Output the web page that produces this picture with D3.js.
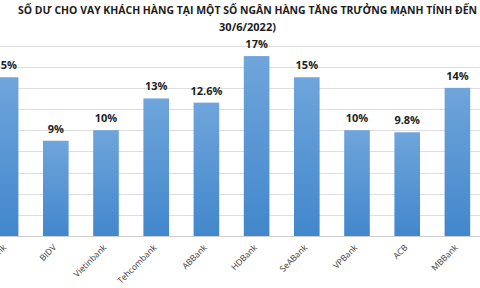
<!DOCTYPE html>
<html>
<head>
<meta charset="utf-8">
<script src="https://d3js.org/d3.v7.min.js"></script>
<style>
  body { margin: 0; background: #fff; }
  .chart text { font-family: "Open Sans", sans-serif; }
</style>
</head>
<body>
<div id="chart" class="chart"></div>
<script>
"use strict";
// số liệu
var nganHang = ["Sacombank", "BIDV", "Vietinbank", "Tehcombank", "ABBank", "HDBank", "SeABank", "VPBank", "ACB", "MBBank"];
var tangTruong = [15, 9, 10, 13, 12.6, 17, 15, 10, 9.8, 14];
var nhanGiaTri = ["15%", "9%", "10%", "13%", "12.6%", "17%", "15%", "10%", "9.8%", "14%"];
var mocLuoi = [0, 2, 4, 6, 8, 10, 12, 14, 16, 18];
var tieuDe = ["SỐ DƯ CHO VAY KHÁCH HÀNG TẠI MỘT SỐ NGÂN HÀNG TĂNG TRƯỞNG MẠNH TÍNH ĐẾN", "30/6/2022)"];

var W = 480, H = 288;
var day = 236, dinh = 45.5;

var svg = d3.select("#chart").append("svg")
  .attr("width", W).attr("height", H);

var grad = svg.append("defs").append("linearGradient")
  .attr("id", "cot").attr("x1", 0).attr("y1", 0).attr("x2", 0).attr("y2", 1);
grad.append("stop").attr("offset", "0%").attr("stop-color", "#6fa5db");
grad.append("stop").attr("offset", "100%").attr("stop-color", "#4287cc");

var x = d3.scaleBand()
  .domain(nganHang)
  .range([-19.5, -19.5 + 50.2 * nganHang.length])
  .paddingInner(0.49)
  .paddingOuter(0.245);

var y = d3.scaleLinear().domain([0, 18]).range([day, dinh]);

// lưới ngang
svg.append("g").selectAll("line")
  .data(mocLuoi)
  .enter().append("line")
    .attr("x1", 0).attr("x2", W)
    .attr("y1", d => Math.round(y(d)) + 0.5)
    .attr("y2", d => Math.round(y(d)) + 0.5)
    .attr("stroke", d => d === 0 ? "#cfcfcf" : "#dedede")
    .attr("stroke-width", 1);

svg.append("g").selectAll("rect")
  .data(tangTruong)
  .enter().append("rect")
    .attr("x", (d, i) => x(nganHang[i]))
    .attr("y", d => y(d))
    .attr("width", x.bandwidth())
    .attr("height", d => day - y(d))
    .attr("fill", "url(#cot)");

svg.append("g").selectAll("text")
  .data(tangTruong)
  .enter().append("text")
    .attr("x", (d, i) => x(nganHang[i]) + x.bandwidth() / 2)
    .attr("y", d => y(d) - 8)
    .attr("text-anchor", "middle")
    .attr("font-size", 11)
    .attr("font-weight", "bold")
    .attr("fill", "#1e1e1e")
    .text((d, i) => nhanGiaTri[i]);

// nhãn trục x xoay
svg.append("g").selectAll("text")
  .data(nganHang)
  .enter().append("text")
    .attr("transform", d => "translate(" + (x(d) + x.bandwidth() / 2 + 1) + "," + (day + 12) + ") rotate(-45)")
    .attr("text-anchor", "end")
    .attr("font-size", 8.5)
    .attr("fill", "#3a3a3a")
    .text(d => d);

svg.append("g").selectAll("text")
  .data(tieuDe)
  .enter().append("text")
    .attr("x", 247.5)
    .attr("y", (d, i) => 14 + i * 17)
    .attr("text-anchor", "middle")
    .attr("font-size", 11)
    .attr("font-weight", "bold")
    .attr("fill", "#1c1c1c")
    .attr("textLength", (d, i) => i === 0 ? 459 : null)
    .attr("lengthAdjust", "spacingAndGlyphs")
    .text(d => d);
</script>
</body>
</html>
